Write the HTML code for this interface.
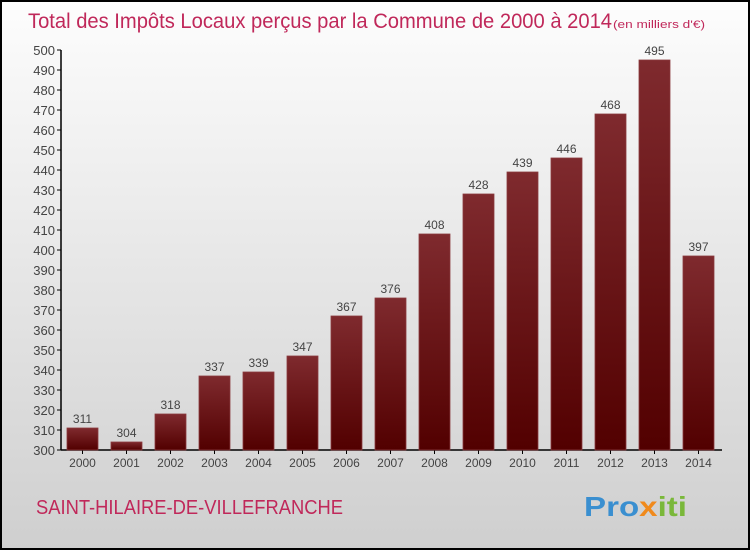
<!DOCTYPE html>
<html><head><meta charset="utf-8"><style>
body{margin:0;width:750px;height:550px;overflow:hidden;font-family:"Liberation Sans",sans-serif}
</style></head><body>
<svg width="750" height="550" xmlns="http://www.w3.org/2000/svg">
<defs>
<linearGradient id="bg" x1="0" y1="0" x2="0" y2="1"><stop offset="0" stop-color="#fdfdfd"/><stop offset="1" stop-color="#cfcfcf"/></linearGradient>
<linearGradient id="bar" x1="0" y1="0" x2="0" y2="1"><stop offset="0" stop-color="#7f2a2e"/><stop offset="1" stop-color="#520000"/></linearGradient>
</defs>
<rect x="1" y="1" width="748" height="548" fill="url(#bg)" stroke="#000" stroke-width="2"/>
<text x="28" y="28" font-size="21" fill="#c0285a" textLength="584" lengthAdjust="spacingAndGlyphs">Total des Impôts Locaux perçus par la Commune de 2000 à 2014</text>
<text x="613" y="28" font-size="11" fill="#c0285a" textLength="92" lengthAdjust="spacingAndGlyphs">(en milliers d'€)</text>
<g id="axes"></g>
<g id="bars"></g>
<text x="36" y="514" font-size="20" fill="#c0285a" textLength="307" lengthAdjust="spacingAndGlyphs">SAINT-HILAIRE-DE-VILLEFRANCHE</text>
<text x="584" y="516" font-size="28" font-weight="bold" fill="#3a8fd0" textLength="103" lengthAdjust="spacingAndGlyphs">Pro<tspan fill="#f08a1c">x</tspan><tspan fill="#7ab83a">iti</tspan></text>
</svg>
<script>
const years=["2000","2001","2002","2003","2004","2005","2006","2007","2008","2009","2010","2011","2012","2013","2014"];
const values=[311,304,318,337,339,347,367,376,408,428,439,446,468,495,397];
const yTicks=[300,310,320,330,340,350,360,370,380,390,400,410,420,430,440,450,460,470,480,490,500];
const NS="http://www.w3.org/2000/svg";
const y=v=>450-(v-300)*2;
const x=i=>82.5+i*44;
function mk(t,a,p){const e=document.createElementNS(NS,t);for(const k in a)e.setAttribute(k,a[k]);p.appendChild(e);return e;}
const ax=document.getElementById('axes'),bg=document.getElementById('bars');
const yl=mk('line',{x1:61,y1:50,x2:61,y2:450,stroke:'#000','stroke-width':1.5},ax);


const xl=mk('line',{x1:61,y1:450,x2:722,y2:450,stroke:'#000','stroke-width':1.5},ax);


yTicks.forEach(v=>{
  mk('line',{x1:57,y1:y(v),x2:61,y2:y(v),stroke:'#000'},ax);
  const t=mk('text',{x:55,y:y(v)+5,'text-anchor':'end','font-size':13,fill:'#444'},ax);
  t.textContent=v;
  
  
});
years.forEach((yr,i)=>{
  mk('line',{x1:x(i),y1:450,x2:x(i),y2:454,stroke:'#000'},ax);
  const t=mk('text',{x:x(i),y:467,'text-anchor':'middle','font-size':12,fill:'#444'},ax);
  t.textContent=yr;
  
  
  const r=mk('rect',{x:x(i)-15.5,y:y(values[i]),width:31,height:450-y(values[i]),fill:'url(#bar)',stroke:'#8a3a3e','stroke-width':0.8},bg);
  
  
  const l=mk('text',{x:x(i),y:y(values[i])-5,'text-anchor':'middle','font-size':12,fill:'#444'},bg);
  l.textContent=values[i];
  
  
});
</script>
</body></html>
